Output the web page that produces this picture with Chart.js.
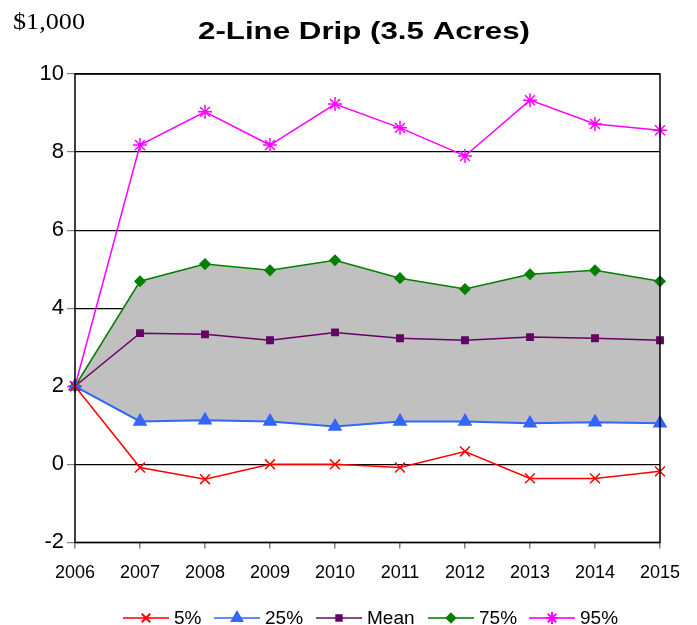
<!DOCTYPE html>
<html>
<head>
<meta charset="utf-8">
<script src="https://cdn.jsdelivr.net/npm/chart.js@4/dist/chart.umd.min.js"></script>
<style>
  html, body { margin: 0; padding: 0; background: #fff; }
  #wrap { width: 697px; height: 625px; position: relative; }
</style>
</head>
<body>
<div id="wrap"><canvas id="myChart"></canvas></div>
<script>
// dados ($1,000)
const anos = ["2006", "2007", "2008", "2009", "2010", "2011", "2012", "2013", "2014", "2015"];
const p5 = [2, -0.08, -0.38, 0.0, 0.0, -0.08, 0.33, -0.36, -0.36, -0.18];
const p25 = [2, 1.10, 1.13, 1.10, 0.97, 1.10, 1.10, 1.05, 1.08, 1.05];
const media = [2, 3.36, 3.33, 3.18, 3.38, 3.23, 3.18, 3.26, 3.23, 3.18];
const p75 = [2, 4.69, 5.13, 4.97, 5.23, 4.77, 4.49, 4.87, 4.97, 4.69];
const p95 = [2, 8.18, 9.03, 8.18, 9.23, 8.62, 7.90, 9.33, 8.72, 8.56];
const nomesSeries = ["5%", "25%", "Mean", "75%", "95%"];

const fonte = "'Liberation Sans', Arial, sans-serif";

// texto esticado na horizontal até a largura pedida
function textoLargo(ctx, txt, x, y, largura) {
    const w = ctx.measureText(txt).width;
    ctx.save();
    ctx.translate(x, y);
    ctx.scale(largura / w, 1);
    ctx.fillText(txt, 0, 0);
    ctx.restore();
}

// desenha $1,000, o título, a borda e a legenda
const extras = {
    id: "extras",
    afterDraw(chart) {
        const ctx = chart.ctx;
        const area = chart.chartArea;
        ctx.save();
        ctx.fillStyle = "#000";
        ctx.textBaseline = "middle";
        ctx.textAlign = "left";
        ctx.font = "24px 'Liberation Serif', 'Times New Roman', serif";
        textoLargo(ctx, "$1,000", 13, 23, 72);
        ctx.font = "bold 24px " + fonte;
        textoLargo(ctx, "2-Line Drip (3.5 Acres)", 198, 32, 332);

        ctx.strokeStyle = "#000";
        ctx.lineWidth = 1.5;
        ctx.strokeRect(area.left, area.top, area.right - area.left, area.bottom - area.top);

        // legenda com linha + marcador
        const inicio = [123, 214, 316, 428, 529];
        const y = 618;
        ctx.font = "19px " + fonte;
        chart.data.datasets.forEach((ds, i) => {
            const x = inicio[i];
            ctx.strokeStyle = ds.legendColor;
            ctx.fillStyle = ds.legendColor;
            ctx.lineWidth = 2;
            ctx.beginPath();
            ctx.moveTo(x, y);
            ctx.lineTo(x + 46, y);
            ctx.stroke();
            ctx.strokeStyle = ds.borderColor;
            ctx.fillStyle = ds.borderColor;
            Chart.helpers.drawPoint(ctx, {
                pointStyle: ds.pointStyle,
                radius: ds.pointRadius * 0.85,
                borderWidth: 1.5,
                rotation: 0
            }, x + 23, y);
            ctx.fillStyle = "#000";
            ctx.fillText(ds.label, x + 51, y + 1);
        });
        ctx.restore();
    }
};

function serie(nome, dados, cor, corLegenda, estilo, raio, extra) {
    return Object.assign({
        label: nome,
        data: dados,
        borderColor: cor,
        backgroundColor: cor,
        pointBackgroundColor: cor,
        pointBorderColor: cor,
        legendColor: corLegenda,
        pointStyle: estilo,
        pointRadius: raio,
        pointHoverRadius: raio,
        pointBorderWidth: 1.5,
        borderWidth: 1.5,
        tension: 0,
        fill: false
    }, extra || {});
}

const config = {
    type: "line",
    data: {
        labels: anos,
        datasets: [
            serie(nomesSeries[0], p5, "#ff0000", "#ff3b3b", "crossRot", 7),
            serie(nomesSeries[1], p25, "#3366ff", "#6688ff", "triangle", 7, { borderWidth: 2 }),
            serie(nomesSeries[2], media, "#660066", "#8a4a8a", "rect", 4.5),
            serie(nomesSeries[3], p75, "#008000", "#33a033", "rectRot", 5, { fill: { target: 1 }, backgroundColor: "#c0c0c0" }),
            serie(nomesSeries[4], p95, "#ff00ff", "#ff33ff", "star", 7)
        ]
    },
    options: {
        animation: false,
        responsive: true,
        maintainAspectRatio: false,
        layout: { padding: { top: 74, right: 37, bottom: 27, left: 0 } },
        plugins: {
            legend: { display: false },
            title: { display: false },
            tooltip: { enabled: false },
            filler: { drawTime: "beforeDatasetsDraw" }
        },
        scales: {
            x: {
                offset: false,
                grid: { drawOnChartArea: false, tickLength: 6, tickColor: "#808080", lineWidth: 1.5 },
                border: { display: false },
                ticks: { color: "#000", font: { family: fonte, size: 18 }, padding: 14, maxRotation: 0 }
            },
            y: {
                min: -2,
                max: 10,
                afterFit(scale) { scale.width = 75; },
                grid: { color: "#000", tickLength: 8, tickColor: "#808080", lineWidth: 1.2 },
                border: { display: false },
                ticks: { stepSize: 2, color: "#000", font: { family: fonte, size: 22 }, padding: 3 }
            }
        }
    },
    plugins: [extras]
};

new Chart(document.getElementById("myChart"), config);
</script>
</body>
</html>
